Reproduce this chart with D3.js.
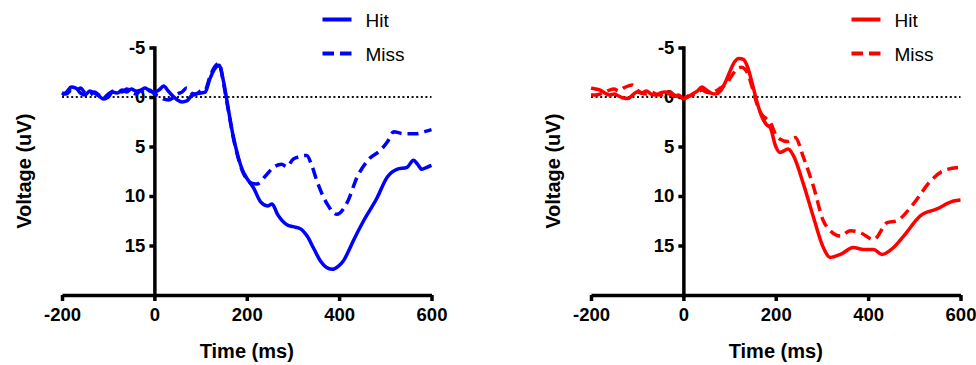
<!DOCTYPE html>
<html lang="en">
<head>
    <meta charset="UTF-8">
    <title>Hit vs Miss ERP</title>
    <style>
        body { margin: 0; background: #fff; }
        svg { display: block; font-family: "Liberation Sans", Arial, Helvetica, sans-serif; }
        .axis path, .axis line { stroke: #000; stroke-width: 3.5px; }
        .axis text { font-size: 18.5px; font-weight: bold; fill: #000; }
        .title { font-size: 20px; font-weight: bold; }
        .legend text { font-size: 19px; }
    </style>
</head>
<body>
    <svg id="chart" width="976" height="365"></svg>
    <script src="https://d3js.org/d3.v7.min.js"></script>
    <script>
        // tick labels
        var xTicks = [-200, 0, 200, 400, 600];
        var yTicks = [-5, 0, 5, 10, 15];
        var seriesNames = ["Hit", "Miss"];

        // left panel (blue) - time in ms, voltage in uV
        var leftHitT = [-200, -190, -180, -170, -160, -150, -140, -130, -120, -110, -100, -90, -80, -70, -60, -50, -40, -30, -20, -10, 0, 10, 20, 30, 40, 50, 60, 70, 80, 90, 100, 110, 120, 130, 140, 150, 160, 170, 180, 190, 200, 215, 230, 245, 255, 266, 287, 300, 316, 330, 345, 360, 372, 385, 398, 410, 420, 431, 453, 482, 504, 525, 547, 561, 570, 579, 590, 600];
        var leftHitV = [-0.2, -0.5, -1.0, -0.9, -0.4, -0.2, -0.6, -0.4, -0.1, 0.2, 0.0, -0.5, -0.4, -0.7, -0.5, -0.8, -0.6, -0.7, -0.9, -0.6, -0.5, -0.7, -1.1, -0.6, -0.1, 0.3, 0.5, 0.4, -0.1, -0.3, -0.4, -0.5, -1.8, -2.8, -3.2, -1.5, 1.2, 3.8, 5.8, 7.3, 8.2, 9.2, 10.6, 11.0, 10.8, 11.8, 12.9, 13.1, 13.3, 14.0, 15.3, 16.6, 17.2, 17.4, 17.1, 16.5, 15.6, 14.5, 12.5, 10.2, 8.1, 7.3, 7.1, 6.4, 6.8, 7.3, 7.1, 6.9];
        var leftMissT = [-200, -190, -180, -170, -160, -150, -140, -130, -120, -110, -100, -90, -80, -70, -60, -50, -40, -30, -20, -10, 0, 10, 20, 30, 40, 50, 60, 70, 80, 90, 100, 110, 120, 130, 140, 150, 160, 170, 180, 190, 200, 210, 222, 240, 258, 276, 287, 300, 309, 330, 340, 352, 374, 395, 417, 439, 464, 489, 505, 518, 539, 568, 585, 600];
        var leftMissV = [-0.4, -0.3, -0.7, -0.6, -0.9, -0.4, -0.2, -0.5, -0.2, 0.1, -0.3, -0.6, -0.7, -0.5, -0.8, -0.5, -0.3, -0.6, -0.4, -0.7, -0.3, -0.1, 0.2, 0.3, 0.1, -0.3, -0.5, -0.9, -0.4, -0.3, -0.6, -0.7, -2.0, -3.0, -3.4, -1.3, 1.3, 3.9, 5.9, 7.4, 8.3, 8.7, 8.8, 8.0, 7.1, 6.8, 7.05, 6.3, 6.1, 5.9, 6.8, 8.5, 10.8, 11.85, 10.7, 8.1, 6.3, 5.4, 4.5, 3.5, 3.7, 3.7, 3.5, 3.3];

        // right panel (red)
        var rightHitT = [-200, -190, -180, -170, -160, -150, -140, -130, -120, -110, -100, -90, -80, -70, -60, -50, -40, -30, -20, -10, 0, 10, 20, 30, 40, 50, 60, 70, 80, 90, 100, 110, 120, 130, 140, 150, 160, 170, 180, 188, 200, 209, 227, 238, 260, 282, 303, 318, 340, 368, 390, 412, 430, 455, 477, 513, 549, 585, 600];
        var rightHitV = [-0.9, -0.8, -0.7, -0.4, -0.2, -0.3, -0.1, 0.1, 0.15, -0.2, -0.5, -0.4, -0.6, -0.3, -0.2, -0.4, -0.5, -0.3, -0.1, -0.2, 0.2, 0.0, -0.3, -0.6, -1.0, -0.7, -0.4, -0.3, -0.6, -1.4, -2.5, -3.5, -3.9, -3.8, -2.9, -1.2, 0.6, 2.0, 2.8, 3.1, 5.0, 5.6, 5.25, 5.9, 8.8, 12.2, 15.2, 16.2, 15.9, 15.2, 15.4, 15.4, 15.9, 15.2, 14.05, 12.0, 11.3, 10.5, 10.4];
        var rightMissT = [-200, -190, -180, -170, -160, -150, -140, -130, -120, -110, -100, -90, -80, -70, -60, -50, -40, -30, -20, -10, 0, 10, 20, 30, 40, 50, 60, 70, 80, 90, 100, 110, 120, 126, 140, 150, 160, 170, 180, 188, 200, 209, 225, 242, 260, 282, 303, 318, 340, 361, 383, 412, 441, 462, 498, 535, 563, 600];
        var rightMissV = [-0.2, -0.2, -0.3, -0.5, -0.7, -0.8, -0.6, -0.9, -1.1, -1.2, -0.7, -0.4, -0.3, -0.5, -0.3, -0.2, -0.3, -0.5, -0.2, 0.0, 0.1, -0.1, -0.2, -0.5, -0.7, -0.5, -0.4, -0.6, -0.9, -1.2, -1.8, -2.5, -2.95, -3.0, -2.3, -0.8, 0.8, 1.8, 2.2, 2.55, 3.8, 4.25, 4.5, 4.1, 6.1, 9.1, 12.5, 13.5, 14.05, 13.5, 13.7, 14.4, 12.7, 12.5, 10.8, 8.5, 7.45, 7.1];

        var svg = d3.select("#chart");

        function zip(ts, vs) {
            return ts.map(function(t, i) { return { t: t, v: vs[i] }; });
        }

        // plain hyphen for negatives, like the original
        function fmt(d) { return String(d); }

        function drawPanel(ox, color, hitT, hitV, missT, missV) {
            var x = d3.scaleLinear().domain([-200, 600]).range([62 + ox, 431.5 + ox]);
            var y = d3.scaleLinear().domain([-5, 20]).range([47.5, 295]);

            var g = svg.append("g");

            // dotted zero line
            g.append("line")
                .attr("x1", x(-200)).attr("x2", x(600))
                .attr("y1", y(0)).attr("y2", y(0))
                .attr("stroke", "#111")
                .attr("stroke-width", 2)
                .attr("stroke-dasharray", "2,2.6");

            // axes
            g.append("g")
                .attr("class", "axis")
                .attr("transform", "translate(" + x(0) + ",0)")
                .call(d3.axisLeft(y).tickValues(yTicks).tickSize(5).tickSizeOuter(0).tickPadding(4).tickFormat(fmt))
                .call(function(s) { s.select(".domain").attr("stroke-linecap", "square"); });

            g.append("g")
                .attr("class", "axis")
                .attr("transform", "translate(0," + y(20) + ")")
                .call(d3.axisBottom(x).tickValues(xTicks).tickSize(6).tickSizeOuter(0).tickPadding(7).tickFormat(fmt));

            var line = d3.line()
                .x(function(d) { return x(d.t); })
                .y(function(d) { return y(d.v); })
                .curve(d3.curveMonotoneX);

            g.append("path")
                .datum(zip(missT, missV))
                .attr("fill", "none")
                .attr("stroke", color)
                .attr("stroke-width", 3.5)
                .attr("stroke-dasharray", "11,6")
                .attr("d", line);

            g.append("path")
                .datum(zip(hitT, hitV))
                .attr("fill", "none")
                .attr("stroke", color)
                .attr("stroke-width", 3.5)
                .attr("d", line);

            // axis titles
            g.append("text")
                .attr("class", "title")
                .attr("transform", "translate(" + (31 + ox) + "," + ((y(-5) + y(20)) / 2) + ") rotate(-90)")
                .attr("text-anchor", "middle")
                .text("Voltage (uV)");

            g.append("text")
                .attr("class", "title")
                .attr("x", x(200))
                .attr("y", 358)
                .attr("text-anchor", "middle")
                .text("Time (ms)");

            // legend
            var legend = g.append("g").attr("class", "legend");
            var items = legend.selectAll("g")
                .data(seriesNames)
                .enter().append("g")
                .attr("transform", function(d, i) { return "translate(" + (322.5 + ox) + "," + (19.5 + i * 34) + ")"; });

            items.append("line")
                .attr("x1", 0).attr("x2", 29)
                .attr("stroke", color)
                .attr("stroke-width", 4)
                .attr("stroke-dasharray", function(d, i) { return i === 0 ? null : "11.5,6"; });

            items.append("text")
                .attr("x", 43)
                .attr("y", 7)
                .text(function(d) { return d; });
        }

        drawPanel(0, "#0000ff", leftHitT, leftHitV, leftMissT, leftMissV);
        drawPanel(529, "#ff0000", rightHitT, rightHitV, rightMissT, rightMissV);
    </script>
</body>
</html>
